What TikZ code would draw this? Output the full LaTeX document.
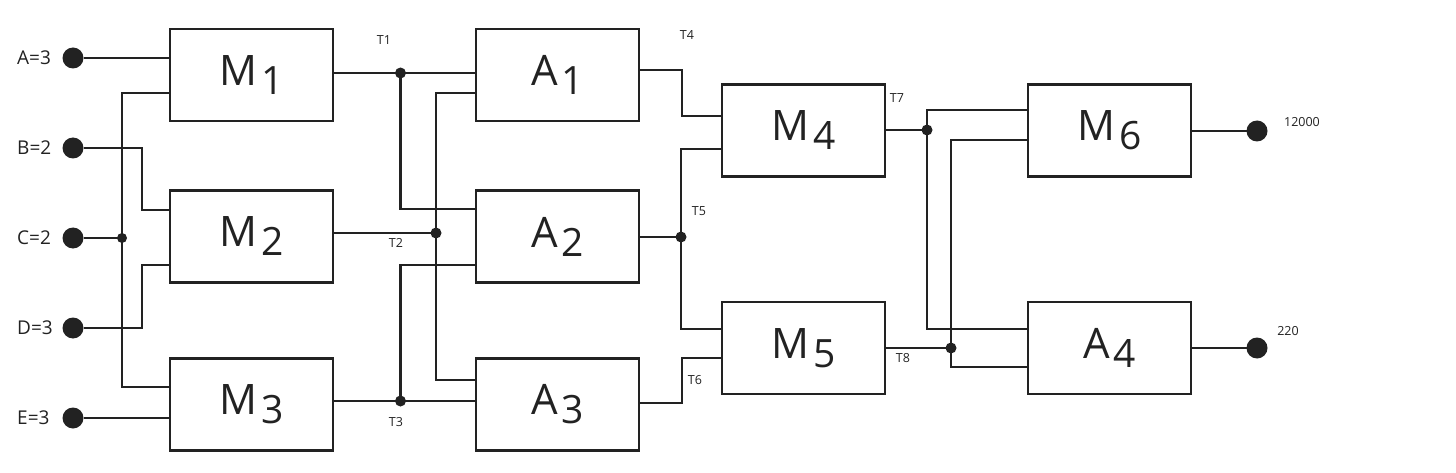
\documentclass[tikz,border=0pt]{standalone}
\usepackage{fontspec}
\setmainfont{Open Sans}
\definecolor{ink}{HTML}{222222}
\newcommand\blab[2]{#1\kern4pt\raisebox{-9pt}{\fontsize{39}{39}\selectfont #2}}
\begin{document}
\begin{tikzpicture}[x=1pt,y=-1pt,
  box/.style={draw=ink, line width=2.4pt, minimum width=163pt, minimum height=92pt, inner sep=0pt, outer sep=0pt, text=ink, font=\fontsize{42}{42}\selectfont},
  wire/.style={draw=ink, line width=2.4pt},
  bigdot/.style={circle, fill=ink, minimum size=21pt, inner sep=0pt, outer sep=0pt},
  jdot/.style={fill=ink},
  lab/.style={text=ink, font=\fontsize{19}{19}\selectfont, inner sep=0pt, anchor=west},
  tlab/.style={text=ink, font=\fontsize{12.5}{12.5}\selectfont, inner sep=0pt}]
\useasboundingbox (0,0) rectangle (1456,473);

% boxes
\node[box] (M1) at (251.5,75) {\blab{M}{1}};
\node[box] (M2) at (251.5,236.5) {\blab{M}{2}};
\node[box] (M3) at (251.5,404.5) {\blab{M}{3}};
\node[box] (A1) at (557.5,75) {\blab{A}{1}};
\node[box] (A2) at (557.5,236.5) {\blab{A}{2}};
\node[box] (A3) at (557.5,404.5) {\blab{A}{3}};
\node[box] (M4) at (803.5,130.5) {\blab{M}{4}};
\node[box] (M5) at (803.5,348) {\blab{M}{5}};
\node[box] (M6) at (1109.5,130.5) {\blab{M}{6}};
\node[box] (A4) at (1109.5,348) {\blab{A}{4}};

% terminals
\node[bigdot] (nA) at (73,58) {};
\node[bigdot] (nB) at (73,148) {};
\node[bigdot] (nC) at (73,238) {};
\node[bigdot] (nD) at (73,328) {};
\node[bigdot] (nE) at (73,418) {};
\node[bigdot] (o1) at (1257,131) {};
\node[bigdot] (o2) at (1257,348) {};

\node[lab] (lA) at (17,58) {A=3};
\node[lab] (lB) at (17,148) {B=2};
\node[lab] (lC) at (17,238) {C=2};
\node[lab] (lD) at (17,328) {D=3};
\node[lab] (lE) at (17,418) {E=3};

% ports
\coordinate (M1a) at (170,58);  \coordinate (M1b) at (170,93);
\coordinate (M2a) at (170,210); \coordinate (M2b) at (170,265);
\coordinate (M3a) at (170,387); \coordinate (M3b) at (170,418);
\coordinate (A1a) at (476,73);  \coordinate (A1b) at (476,93);
\coordinate (A2a) at (476,209); \coordinate (A2b) at (476,265);
\coordinate (A3a) at (476,380); \coordinate (A3b) at (476,401);
\coordinate (M4a) at (722,116); \coordinate (M4b) at (722,149);
\coordinate (M5a) at (722,329); \coordinate (M5b) at (722,358);
\coordinate (M6a) at (1028,110); \coordinate (M6b) at (1028,140);
\coordinate (A4a) at (1028,329); \coordinate (A4b) at (1028,367);
\coordinate (M1o) at (333,73);  \coordinate (M2o) at (333,233);
\coordinate (M3o) at (333,401); \coordinate (A1o) at (639,70);
\coordinate (A2o) at (639,237); \coordinate (A3o) at (639,403);
\coordinate (M4o) at (885,130); \coordinate (M5o) at (885,348);
\coordinate (M6o) at (1191,131); \coordinate (A4o) at (1191,348);

% junctions
\coordinate (jC) at (122,238);
\coordinate (T1) at (400.5,73);
\coordinate (T2) at (436,233);
\coordinate (T3) at (400.5,401);
\coordinate (T5) at (681,237);
\coordinate (T7) at (927,130);
\coordinate (T8) at (951,348);

% wires: inputs
\draw[wire] (nA) -- (M1a);
\draw[wire] (M1b) -| (jC) |- (M3a);
\draw[wire] (nB) -- (142,148) |- (M2a);
\draw[wire] (nC) -- (jC);
\draw[wire] (nD) -- (142,328) |- (M2b);
\draw[wire] (nE) -- (M3b);
% stage 2
\draw[wire] (M1o) -- (T1) -- (A1a);
\draw[wire] (T1) |- (A2a);
\draw[wire] (A1b) -| (T2) |- (A3a);
\draw[wire] (M2o) -- (T2);
\draw[wire] (M3o) -- (T3) -- (A3b);
\draw[wire] (T3) |- (A2b);
% stage 3
\draw[wire] (A1o) -- (682,70) |- (M4a);
\draw[wire] (M4b) -| (T5) |- (M5a);
\draw[wire] (A2o) -- (T5);
\draw[wire] (A3o) -- (682,403) |- (M5b);
% stage 4
\draw[wire] (M4o) -- (T7);
\draw[wire] (T7) |- (M6a);
\draw[wire] (T7) |- (A4a);
\draw[wire] (M5o) -- (T8);
\draw[wire] (T8) |- (M6b);
\draw[wire] (T8) |- (A4b);
% outputs
\draw[wire] (M6o) -- (o1);
\draw[wire] (A4o) -- (o2);

% junction dots
\fill[jdot] (jC) circle (5);
\foreach \j in {T1,T2,T3,T5,T7,T8} \fill[jdot] (\j) circle (5.5);

% T labels
\node[tlab] (t1) at (384,40) {T1};
\node[tlab] (t2) at (396,243) {T2};
\node[tlab] (t3) at (396,422) {T3};
\node[tlab] (t4) at (687,35) {T4};
\node[tlab] (t5) at (699,211) {T5};
\node[tlab] (t6) at (695,380) {T6};
\node[tlab] (t7) at (897,98) {T7};
\node[tlab] (t8) at (903,358) {T8};
\node[tlab] (v1) at (1302,122) {12000};
\node[tlab] (v2) at (1288,331) {220};
\end{tikzpicture}
\end{document}
